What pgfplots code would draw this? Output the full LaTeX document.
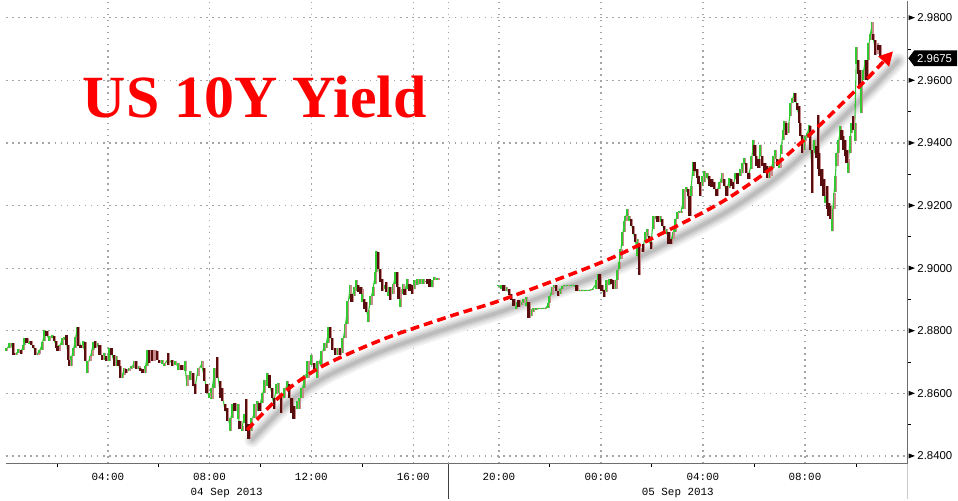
\documentclass[border=0pt]{standalone}
\usepackage{pgfplots}
\pgfplotsset{compat=1.18}
\usepackage{pgfplotstable}
\usepackage{fontspec}
\setmainfont{Liberation Sans}
\newfontfamily\monofont{Liberation Mono}
\newfontfamily\titlefont{Liberation Serif}
\usetikzlibrary{arrows.meta}
\definecolor{cgreen}{RGB}{50,200,50}
\definecolor{cdark}{RGB}{88,14,14}
\definecolor{chalo}{RGB}{200,140,140}
\definecolor{gridc}{RGB}{165,165,165}
\definecolor{axc}{RGB}{110,110,110}
\newsavebox\tribox
\newcommand\ytl[1]{\mbox{\raisebox{1.6bp}{\usebox\tribox}\hspace{2.5bp}#1}}

\pgfplotstableread{
x lo hi t
0.0 2.8735 2.8745 1
3.3 2.8745 2.8761 1
5.0 2.8756 2.8761 1
6.7 2.8724 2.8761 0
8.3 2.8724 2.8729 0
10.0 2.8724 2.8729 1
12.3 2.8729 2.8742 1
15.0 2.8726 2.8740 0
17.0 2.8740 2.8756 1
18.3 2.8756 2.8777 1
20.7 2.8761 2.8777 0
23.3 2.8758 2.8768 1
25.0 2.8756 2.8766 0
27.3 2.8745 2.8756 0
29.3 2.8724 2.8745 0
31.7 2.8724 2.8729 1
33.3 2.8726 2.8740 1
36.0 2.8740 2.8766 1
38.3 2.8766 2.8803 1
40.7 2.8782 2.8798 0
43.3 2.8766 2.8782 1
46.0 2.8777 2.8787 1
48.3 2.8766 2.8782 0
50.0 2.8745 2.8766 0
51.7 2.8735 2.8751 0
53.3 2.8735 2.8756 1
56.0 2.8756 2.8777 1
58.3 2.8772 2.8780 1
60.7 2.8756 2.8787 0
62.0 2.8708 2.8756 0
63.3 2.8687 2.8708 0
65.0 2.8687 2.8719 1
67.3 2.8719 2.8745 1
69.3 2.8745 2.8782 1
71.0 2.8782 2.8811 1
72.7 2.8751 2.8811 0
75.0 2.8745 2.8756 0
77.3 2.8745 2.8766 1
79.3 2.8703 2.8766 0
81.7 2.8666 2.8703 1
84.0 2.8703 2.8720 1
86.0 2.8720 2.8740 1
87.3 2.8740 2.8766 1
89.3 2.8745 2.8766 0
91.7 2.8751 2.8761 1
94.0 2.8724 2.8756 0
96.7 2.8708 2.8724 0
98.7 2.8708 2.8729 1
100.7 2.8703 2.8719 0
103.3 2.8703 2.8745 1
106.0 2.8724 2.8745 0
108.3 2.8687 2.8724 0
110.7 2.8687 2.8719 1
113.3 2.8687 2.8708 0
115.0 2.8650 2.8687 0
116.7 2.8650 2.8660 1
118.3 2.8660 2.8682 1
120.7 2.8666 2.8677 0
123.3 2.8672 2.8682 1
126.0 2.8677 2.8687 1
128.3 2.8682 2.8703 1
130.7 2.8677 2.8703 0
133.3 2.8677 2.8687 1
135.0 2.8672 2.8682 0
137.3 2.8666 2.8677 0
140.0 2.8666 2.8687 1
141.7 2.8687 2.8740 1
144.0 2.8698 2.8740 0
146.7 2.8703 2.8740 0
148.3 2.8703 2.8740 1
150.0 2.8729 2.8740 1
151.7 2.8708 2.8735 0
154.0 2.8698 2.8708 0
156.7 2.8693 2.8708 1
159.3 2.8687 2.8698 1
163.3 2.8692 2.8729 0
166.7 2.8687 2.8708 0
170.0 2.8692 2.8703 1
173.3 2.8676 2.8697 1
176.7 2.8676 2.8692 0
180.0 2.8671 2.8703 1
181.7 2.8623 2.8660 1
185.0 2.8644 2.8671 1
188.3 2.8623 2.8666 0
190.0 2.8597 2.8629 0
192.7 2.8655 2.8682 1
196.7 2.8682 2.8703 1
199.0 2.8639 2.8682 0
201.7 2.8602 2.8629 0
204.0 2.8586 2.8602 1
206.7 2.8581 2.8618 1
209.0 2.8618 2.8680 1
212.3 2.8650 2.8718 0
215.0 2.8586 2.8639 0
217.3 2.8576 2.8618 0
220.0 2.8544 2.8565 0
222.7 2.8512 2.8555 0
225.0 2.8480 2.8523 1
227.7 2.8523 2.8565 1
230.0 2.8544 2.8570 0
233.3 2.8518 2.8565 1
235.0 2.8486 2.8512 0
237.3 2.8480 2.8496 1
239.3 2.8507 2.8533 1
241.7 2.8480 2.8581 0
244.0 2.8455 2.8502 0
246.7 2.8480 2.8523 1
250.0 2.8523 2.8565 1
252.7 2.8544 2.8576 1
255.0 2.8544 2.8570 0
257.3 2.8570 2.8602 1
260.0 2.8602 2.8644 1
262.3 2.8623 2.8665 1
265.0 2.8618 2.8660 0
267.3 2.8586 2.8618 0
269.3 2.8549 2.8586 0
271.7 2.8597 2.8629 1
274.0 2.8602 2.8634 1
276.7 2.8539 2.8592 0
280.0 2.8586 2.8618 1
282.7 2.8618 2.8639 1
285.0 2.8586 2.8629 0
287.3 2.8539 2.8586 0
289.3 2.8518 2.8560 0
292.7 2.8549 2.8576 1
295.0 2.8549 2.8586 1
297.3 2.8586 2.8618 1
300.0 2.8618 2.8660 1
303.3 2.8650 2.8703 1
306.7 2.8692 2.8724 1
310.0 2.8671 2.8697 0
313.3 2.8650 2.8703 1
316.7 2.8692 2.8735 1
320.0 2.8735 2.8760 1
321.7 2.8744 2.8760 1
324.0 2.8760 2.8813 1
326.0 2.8776 2.8813 0
328.3 2.8739 2.8776 0
330.7 2.8723 2.8744 0
333.3 2.8723 2.8744 1
336.0 2.8723 2.8744 0
338.3 2.8728 2.8776 1
340.7 2.8776 2.8823 1
343.3 2.8823 2.8897 1
345.7 2.8903 2.8945 1
347.7 2.8892 2.8919 0
350.0 2.8913 2.8940 1
352.3 2.8929 2.8961 1
354.3 2.8924 2.8945 0
356.7 2.8919 2.8940 0
358.3 2.8892 2.8934 1
360.0 2.8871 2.8903 0
362.3 2.8860 2.8892 0
364.0 2.8829 2.8866 1
366.7 2.8882 2.8913 1
369.0 2.8913 2.8940 1
371.0 2.8950 2.8987 1
372.7 2.8987 2.9056 1
374.0 2.8998 2.9051 0
376.0 2.8956 2.8998 0
378.3 2.8929 2.8966 0
380.0 2.8934 2.8945 1
382.3 2.8924 2.8956 0
384.3 2.8913 2.8940 1
386.7 2.8897 2.8940 0
389.0 2.8919 2.8950 1
391.3 2.8950 2.8987 1
393.3 2.8940 2.8987 0
395.0 2.8903 2.8940 0
396.7 2.8876 2.8934 1
399.0 2.8919 2.8950 1
401.0 2.8913 2.8934 0
403.3 2.8934 2.8966 1
406.0 2.8929 2.8950 0
408.3 2.8919 2.8945 0
410.7 2.8934 2.8961 1
413.3 2.8945 2.8966 1
416.7 2.8950 2.8966 1
420.0 2.8950 2.8966 1
423.3 2.8950 2.8966 0
426.0 2.8940 2.8966 0
428.3 2.8940 2.8961 1
430.7 2.8961 2.8972 1
433.3 2.8961 2.8970 1
435.0 2.8961 2.8970 1
440.0 nan nan 2
495.0 2.8943 2.8947 1
498.3 2.8934 2.8947 1
500.7 2.8929 2.8945 0
503.3 2.8929 2.8939 1
506.0 2.8913 2.8934 0
508.3 2.8897 2.8918 0
510.7 2.8881 2.8902 0
513.3 2.8870 2.8891 1
515.7 2.8875 2.8897 0
518.3 2.8881 2.8891 1
520.7 2.8889 2.8902 1
523.3 2.8881 2.8907 1
525.7 2.8840 2.8891 0
528.3 2.8849 2.8870 1
530.7 2.8860 2.8872 1
533.3 2.8870 2.8872 1
536.7 2.8871 2.8873 1
540.0 2.8871 2.8873 1
542.7 2.8870 2.8873 1
545.0 2.8872 2.8889 1
546.7 2.8889 2.8913 1
549.0 2.8913 2.8939 1
551.0 2.8939 2.8945 1
553.3 2.8929 2.8945 0
555.7 2.8913 2.8929 0
557.3 2.8918 2.8934 1
559.3 2.8934 2.8943 1
561.7 2.8943 2.8947 1
565.0 2.8944 2.8946 1
568.3 2.8944 2.8946 1
571.7 2.8944 2.8946 1
574.0 2.8929 2.8945 0
576.7 2.8928 2.8930 1
580.0 2.8928 2.8930 1
583.3 2.8928 2.8930 1
586.7 2.8928 2.8931 1
590.0 2.8931 2.8934 1
593.3 2.8934 2.8961 1
595.7 2.8961 2.8982 1
597.3 2.8934 2.8982 0
599.3 2.8929 2.8945 0
601.7 2.8907 2.8929 0
604.0 2.8923 2.8961 1
606.7 2.8945 2.8966 1
609.0 2.8950 2.8966 0
610.7 2.8934 2.8961 0
613.3 2.8934 2.8961 1
615.0 2.8961 2.8993 1
616.7 2.8998 2.9019 1
618.3 2.9030 2.9062 1
620.0 2.9072 2.9115 1
621.7 2.9115 2.9152 1
623.3 2.9152 2.9168 1
625.0 2.9168 2.9189 1
626.7 2.9152 2.9168 1
629.0 2.9136 2.9157 0
630.7 2.9110 2.9136 0
632.7 2.9083 2.9110 0
634.7 2.9040 2.9094 1
636.7 2.8977 2.9072 0
638.3 2.9051 2.9062 1
640.7 2.9051 2.9078 0
643.3 2.9083 2.9115 1
645.0 2.9104 2.9126 1
646.7 2.9083 2.9104 0
649.0 2.9062 2.9083 0
651.0 2.9126 2.9168 1
653.3 2.9157 2.9168 1
655.7 2.9147 2.9168 0
658.3 2.9147 2.9168 1
660.0 2.9136 2.9157 0
662.3 2.9110 2.9136 0
664.3 2.9110 2.9126 1
666.7 2.9078 2.9115 0
669.0 2.9078 2.9094 0
670.7 2.9094 2.9115 1
673.3 2.9115 2.9157 1
675.0 2.9157 2.9179 1
677.3 2.9176 2.9184 1
679.3 2.9178 2.9182 1
681.7 2.9189 2.9253 1
684.0 2.9243 2.9259 1
686.0 2.9232 2.9253 0
687.7 2.9168 2.9232 0
689.3 2.9232 2.9264 1
691.0 2.9296 2.9338 1
692.7 2.9312 2.9338 0
695.0 2.9290 2.9317 0
696.7 2.9269 2.9296 0
698.3 2.9232 2.9274 0
700.7 2.9264 2.9296 1
702.7 2.9274 2.9310 1
705.0 2.9289 2.9305 1
707.3 2.9263 2.9295 0
710.0 2.9258 2.9284 0
712.3 2.9252 2.9274 0
715.0 2.9231 2.9252 0
717.3 2.9252 2.9274 1
720.0 2.9274 2.9305 1
722.3 2.9263 2.9284 0
725.0 2.9231 2.9263 0
727.3 2.9258 2.9289 1
729.3 2.9263 2.9284 0
731.7 2.9252 2.9274 0
734.0 2.9284 2.9305 1
736.0 2.9268 2.9305 0
738.3 2.9295 2.9316 1
740.7 2.9305 2.9337 1
742.7 2.9332 2.9353 1
745.0 2.9305 2.9337 0
747.3 2.9284 2.9305 0
750.0 2.9316 2.9358 1
751.7 2.9364 2.9411 1
753.3 2.9358 2.9395 0
755.0 2.9326 2.9358 0
757.3 2.9321 2.9348 0
759.0 2.9358 2.9395 1
761.0 2.9326 2.9358 0
763.3 2.9305 2.9337 0
765.7 2.9289 2.9326 0
767.7 2.9289 2.9326 1
769.3 2.9295 2.9316 1
771.7 2.9321 2.9358 1
774.0 2.9348 2.9379 1
776.0 2.9326 2.9348 0
778.3 2.9321 2.9348 1
780.0 2.9364 2.9395 1
781.7 2.9411 2.9443 1
783.3 2.9443 2.9469 1
785.0 2.9427 2.9464 0
787.3 2.9432 2.9464 1
789.3 2.9485 2.9527 1
791.0 2.9527 2.9543 1
792.7 2.9543 2.9560 1
794.3 2.9530 2.9560 0
796.0 2.9506 2.9527 0
797.7 2.9464 2.9517 0
799.3 2.9422 2.9464 0
801.0 2.9369 2.9427 0
802.7 2.9379 2.9411 1
804.3 2.9406 2.9422 1
806.0 2.9416 2.9432 1
807.7 2.9432 2.9459 1
809.3 2.9379 2.9453 0
811.0 2.9240 2.9379 0
813.3 2.9369 2.9411 1
815.0 2.9353 2.9390 0
817.3 2.9316 2.9490 0
818.3 2.9295 2.9369 0
820.7 2.9263 2.9316 0
822.7 2.9231 2.9284 0
824.3 2.9210 2.9263 1
826.0 2.9189 2.9263 0
827.7 2.9168 2.9210 0
829.3 2.9157 2.9199 0
831.0 2.9120 2.9189 1
832.7 2.9189 2.9242 1
834.0 2.9242 2.9295 1
835.7 2.9326 2.9369 1
837.3 2.9369 2.9411 1
839.0 2.9411 2.9453 1
840.7 2.9411 2.9443 0
842.3 2.9379 2.9422 0
844.0 2.9358 2.9411 0
845.7 2.9337 2.9379 0
847.3 2.9305 2.9348 1
849.0 2.9369 2.9422 1
850.7 2.9432 2.9464 1
852.3 2.9443 2.9485 0
854.0 2.9406 2.9464 1
855.7 2.9654 2.9707 1
857.3 2.9622 2.9665 0
859.0 2.9580 2.9633 0
860.7 2.9496 2.9580 1
862.3 2.9601 2.9633 1
864.0 2.9633 2.9665 1
866.0 2.9601 2.9665 0
867.7 2.9665 2.9718 1
869.3 2.9728 2.9749 1
871.0 2.9749 2.9788 1
872.7 2.9728 2.9749 0
874.3 2.9681 2.9728 0
876.0 2.9686 2.9718 1
877.7 2.9696 2.9712 0
879.3 2.9675 2.9712 0
}\bars

\pgfplotstableread{
x y
242.7 2.8484
266.7 2.8563
286.7 2.8621
320 2.8690
380 2.8774
450 2.8850
500 2.8900
600 2.9020
660 2.9111
720 2.9211
766.7 2.9311
800 2.9401
833.3 2.9501
866.7 2.9606
892.7 2.9693
}\arrowtab

\begin{document}
\sbox\tribox{\tikz\fill[black] (0,0)--(6.5bp,2.5bp)--(0,5bp)--cycle;}
\begin{tikzpicture}
\path (0,-36bp) rectangle (958bp,466bp);
\begin{axis}[
  at={(0,0)}, anchor=south west, scale only axis,
  width=907bp, height=466bp,
  xmin=0, xmax=907, ymin=2.83756, ymax=2.98549,
  axis x line*=bottom, axis y line*=right,
  axis line style={draw=axc, line width=1bp},
  xtick={102.5,204.7,307.2,409.8,496,598.7,701.3,804},
  xticklabels={\mbox{04:00},\mbox{08:00},\mbox{12:00},\mbox{16:00},\mbox{20:00},\mbox{00:00},\mbox{04:00},\mbox{08:00}},
  extra x ticks={445}, extra x tick labels={},
  minor xtick={51.3,153.6,256,358.5,547.3,650,752.7,855.5},
  ytick={2.84,2.86,2.88,2.90,2.92,2.94,2.96,2.98},
  yticklabels={\ytl{2.8400},\ytl{2.8600},\ytl{2.8800},\ytl{2.9000},\ytl{2.9200},\ytl{2.9400},\ytl{2.9600},\ytl{2.9800}},
  minor ytick={2.85,2.87,2.89,2.91,2.93,2.95,2.97},
  major tick length=0pt, minor tick length=3.5bp, tick align=outside,
  tick style={draw=black, line width=1bp},
  grid=major,
  major grid style={draw=gridc, line width=1.3bp, dash pattern=on 1.5bp off 4.6bp},
  xticklabel style={font=\monofont\fontsize{11}{12}\selectfont, anchor=base, inner sep=0pt, yshift=-16.6bp},
  yticklabel style={font=\fontsize{11.5}{13}\selectfont, anchor=west, inner sep=0pt, xshift=1bp},
  clip=false,
]
% soft shadow of the trend arrow
\addplot[draw=black!5, line width=16bp, smooth, line cap=round, forget plot,
  x filter/.expression={x+5}, y filter/.expression={y-0.0031}] table {\arrowtab};
\addplot[draw=black!11, line width=12bp, smooth, line cap=round, forget plot,
  x filter/.expression={x+5}, y filter/.expression={y-0.0031}] table {\arrowtab};
\addplot[draw=black!18, line width=8bp, smooth, line cap=round, forget plot,
  x filter/.expression={x+5}, y filter/.expression={y-0.0031}] table {\arrowtab};
\addplot[draw=black!26, line width=4bp, smooth, line cap=round, forget plot,
  x filter/.expression={x+5}, y filter/.expression={y-0.0031}] table {\arrowtab};

% price series
\addplot[draw=cgreen, line width=1.1bp, unbounded coords=jump, forget plot]
  table[x=x, y expr={(\thisrow{lo}+\thisrow{hi})/2}] {\bars};
\addplot[draw=none, forget plot, restrict expr to domain={\thisrow{t}}{0.5:1.5},
  error bars/.cd, y dir=both, y explicit, error mark=none,
  error bar style={draw=cgreen, line width=2bp, solid}]
  table[x=x, y expr={(\thisrow{lo}+\thisrow{hi})/2}, y error expr={(\thisrow{hi}-\thisrow{lo})/2}] {\bars};
\addplot[draw=none, forget plot, restrict expr to domain={\thisrow{t}}{-0.5:0.5},
  x filter/.expression={x+1.5},
  error bars/.cd, y dir=both, y explicit, error mark=none,
  error bar style={draw=chalo, line width=1.2bp, solid}]
  table[x=x, y expr={(\thisrow{lo}+\thisrow{hi})/2}, y error expr={(\thisrow{hi}-\thisrow{lo})/2}] {\bars};
\addplot[draw=none, forget plot, restrict expr to domain={\thisrow{t}}{-0.5:0.5},
  error bars/.cd, y dir=both, y explicit, error mark=none,
  error bar style={draw=cdark, line width=2.3bp, solid}]
  table[x=x, y expr={(\thisrow{lo}+\thisrow{hi})/2}, y error expr={(\thisrow{hi}-\thisrow{lo})/2}] {\bars};

% trend arrow
\addplot[draw=red, line width=3.6bp, dash pattern=on 9bp off 5bp, smooth, forget plot,
  -{Triangle[length=14bp,width=14bp]}] table {\arrowtab};
\end{axis}

\node[anchor=base west, inner sep=0pt, text=red,
  font=\titlefont\bfseries\fontsize{60.5}{61}\selectfont] at (77bp,348.5bp) {US 10Y Yield};

\fill[black] (908bp,408bp) -- (914bp,416bp) -- (957bp,416bp) -- (957bp,400bp) -- (914bp,400bp) -- cycle;
\node[text=white, inner sep=0pt, font=\fontsize{11.5}{13}\selectfont] at (934.5bp,408bp) {2.9675};

\node[anchor=base, inner sep=0pt, font=\monofont\fontsize{11}{12}\selectfont] at (222bp,-32.5bp) {04 Sep 2013};
\node[anchor=base, inner sep=0pt, font=\monofont\fontsize{11}{12}\selectfont] at (676bp,-32.5bp) {05 Sep 2013};

\draw[draw=black!75, line width=1.4bp] (445bp,0) -- (445bp,-36bp);
\draw[draw=black!20, line width=1bp] (907bp,0) -- (907bp,-36bp);
\end{tikzpicture}
\end{document}
